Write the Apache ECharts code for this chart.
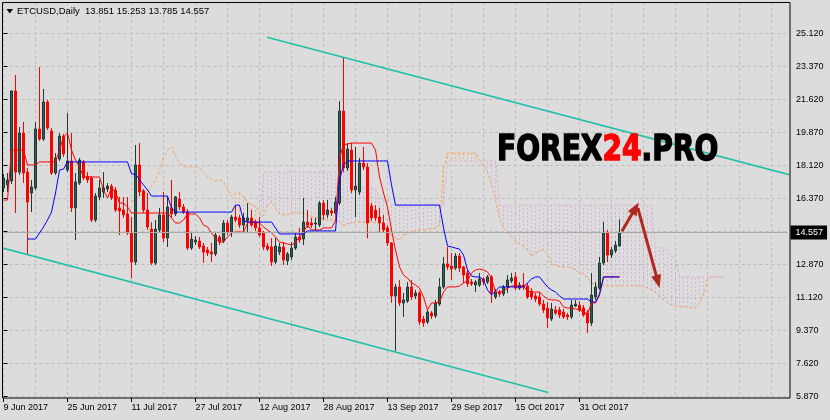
<!DOCTYPE html>
<html><head><meta charset="utf-8">
<script src="https://cdn.jsdelivr.net/npm/echarts@6/dist/echarts.min.js"></script>
<style>html,body{margin:0;padding:0;background:#dcdcdc}#c{width:830px;height:420px}</style>
</head><body><div id="c"></div>
<script>
// ---------- DATA ----------
const startDate = '2017-06-09';
const slotCount = 197; // daily slots shown on the time axis (incl. future cloud)
const tickLabels = ['9 Jun 2017','25 Jun 2017','11 Jul 2017','27 Jul 2017','12 Aug 2017','28 Aug 2017','13 Sep 2017','29 Sep 2017','15 Oct 2017','31 Oct 2017'];
const priceTicks = [5.87,7.62,9.37,11.12,12.87,14.62,16.37,18.12,19.87,21.62,23.37,25.12];
const priceLabels = [5.87,7.62,9.37,11.12,12.87,16.37,18.12,19.87,21.62,23.37,25.12];
const lastPrice = 14.557;
const header = {symbol:'ETCUSD,Daily', open:13.851, high:15.253, low:13.785, close:14.557};

// [open, high, low, close]
const ohlc = [
[16.92,17.66,16.70,17.45],[17.08,17.71,16.70,17.34],[17.29,22.10,17.13,22.06],[22.06,22.91,15.59,17.76],[17.76,20.15,17.61,19.83],
[19.83,20.42,17.18,17.71],[17.76,17.98,13.36,16.17],[16.65,17.34,15.64,16.97],[16.92,20.42,16.81,20.05],[20.05,23.33,19.41,19.51],
[19.51,22.17,19.41,21.48],[21.48,21.58,19.99,20.10],[19.94,20.10,17.61,17.71],[17.71,18.77,17.61,18.51],[18.45,19.83,18.35,19.67],
[19.67,19.78,18.56,18.72],[17.87,20.89,17.76,18.35],[18.35,19.83,15.64,15.86],[15.86,17.71,14.16,17.24],[17.18,18.51,17.08,18.40],
[18.30,18.40,17.34,17.45],[17.55,17.76,17.18,17.34],[17.45,17.55,15.11,15.22],[15.22,16.65,15.11,16.49],[16.44,17.34,16.28,16.92],
[16.70,17.76,16.39,16.92],[16.86,17.18,16.70,17.02],[17.02,17.13,16.28,16.39],[16.81,16.97,15.64,15.75],[15.86,16.44,14.42,15.70],
[15.75,16.44,15.33,15.49],[15.54,16.44,14.42,14.53],[14.53,15.38,12.14,12.99],[12.99,19.20,12.83,18.14],[18.14,19.30,16.49,16.70],
[16.76,16.86,15.59,15.75],[15.75,16.65,14.69,14.85],[14.74,15.11,12.83,12.94],[12.94,15.22,12.83,14.74],[14.69,15.86,14.53,15.49],
[15.49,16.70,14.05,14.26],[14.26,16.49,13.79,15.91],[15.86,17.34,15.33,15.54],[15.54,16.49,15.43,16.44],[16.33,16.70,15.75,15.91],
[15.91,16.07,15.54,15.64],[15.64,15.80,13.63,13.73],[13.73,14.53,13.63,14.21],[14.05,14.37,13.89,14.16],[14.10,14.32,13.68,13.79],
[13.84,14.00,12.94,13.52],[13.63,13.79,13.31,13.47],[13.52,14.00,12.99,13.42],[13.42,14.58,13.31,14.42],[14.32,14.42,13.89,14.05],
[14.10,15.22,14.00,15.06],[15.06,15.22,14.42,14.58],[14.58,15.49,14.32,15.38],[15.38,16.01,15.11,15.22],[15.33,15.49,14.80,14.95],
[14.95,15.59,14.58,15.33],[15.17,16.12,14.58,15.33],[15.33,15.75,14.85,14.95],[15.11,15.22,14.64,14.80],[14.80,15.38,14.32,14.42],
[14.53,14.64,13.63,13.79],[13.84,14.00,13.57,13.68],[13.79,14.26,12.78,12.99],[12.99,14.26,12.89,13.84],[13.52,14.00,13.36,13.79],
[13.79,14.05,12.83,13.10],[13.05,13.52,12.83,13.42],[13.26,14.05,13.10,13.73],[13.73,14.58,13.63,14.32],[14.32,14.80,14.00,14.16],
[14.21,16.39,13.89,15.11],[15.11,15.75,14.80,14.95],[15.06,15.33,14.80,14.95],[15.01,15.33,14.69,15.06],[14.95,16.23,14.85,16.12],
[16.12,16.28,15.22,15.49],[15.49,16.28,15.33,15.75],[15.70,15.86,15.43,15.59],[15.59,16.44,15.49,16.17],[16.12,21.53,16.01,21.00],
[21.00,23.85,17.76,17.98],[17.98,19.30,17.82,18.98],[18.93,19.30,16.65,16.81],[16.81,19.09,15.38,17.02],[16.70,18.51,16.55,18.24],
[18.24,19.09,17.87,18.03],[18.03,18.24,14.25,15.06],[15.96,16.12,15.17,15.33],[15.75,16.01,15.17,15.33],[15.38,15.86,14.53,15.06],
[15.06,15.49,14.53,14.69],[14.80,14.95,13.84,14.00],[14.00,14.05,10.82,11.19],[11.19,11.83,8.27,11.67],[11.67,12.04,10.66,10.82],
[10.82,11.35,10.08,10.98],[10.92,11.93,10.82,11.67],[11.67,12.04,10.98,11.14],[11.19,11.51,11.03,11.35],[11.35,11.45,9.65,9.81],
[9.97,10.13,9.55,9.76],[9.81,10.50,9.70,10.34],[10.29,10.39,9.97,10.13],[10.13,10.98,10.02,10.82],[10.76,12.14,10.66,11.67],
[11.67,13.26,11.56,12.89],[12.89,13.79,12.57,12.73],[12.78,13.47,12.04,12.62],[12.67,13.47,12.57,13.31],[13.31,13.47,12.46,12.67],
[12.73,12.78,11.88,12.30],[12.41,12.57,11.67,11.83],[11.93,12.09,11.72,11.83],[11.77,12.04,11.40,11.93],[11.77,12.41,11.67,12.09],
[12.09,12.20,11.77,11.93],[11.93,12.30,11.83,12.20],[12.20,12.30,10.82,11.35],[11.14,11.56,11.03,11.40],[11.40,11.51,11.14,11.30],
[11.30,11.77,11.19,11.67],[11.67,12.30,11.35,12.04],[11.99,12.41,11.88,12.14],[12.20,12.46,11.51,11.61],[11.61,11.93,11.51,11.77],
[11.77,12.41,11.51,11.67],[11.72,11.88,11.03,11.14],[11.45,11.61,10.98,11.14],[11.19,11.35,10.87,11.03],[11.14,11.40,10.66,10.76],
[10.76,10.98,10.29,10.45],[10.55,10.87,9.49,10.02],[9.97,10.82,9.86,10.50],[10.45,10.66,10.18,10.29],[10.45,10.61,10.02,10.18],
[10.34,10.50,9.97,10.08],[10.18,10.29,9.92,10.08],[10.08,10.98,9.97,10.71],[10.66,10.98,10.61,10.76],[10.71,10.92,10.34,10.45],
[10.55,10.71,10.08,10.18],[10.29,10.45,9.23,9.76],[9.76,12.41,9.60,11.24],[11.14,11.93,10.98,11.67],[11.61,13.26,11.51,12.94],
[12.94,15.11,12.83,14.53],[14.53,14.69,12.99,13.36],[13.36,13.79,13.20,13.63],[13.58,14.10,13.47,13.89],[13.851,15.253,13.785,14.557]
];

const tenkan = [
16.28,16.28,18.93,18.93,18.93,18.93,18.14,18.14,18.14,18.30,
18.30,18.30,18.30,18.30,18.93,19.62,19.83,18.93,18.40,18.03,
17.50,17.50,17.50,17.50,17.50,16.81,16.39,16.92,16.70,16.12,
16.12,15.91,15.59,15.59,15.59,15.59,15.59,15.59,15.59,15.59,
15.59,15.59,15.33,15.06,15.06,15.22,15.54,15.54,15.54,15.33,
14.95,14.85,14.53,14.26,14.05,14.05,14.32,14.53,14.58,14.58,
14.58,15.06,15.11,15.11,15.06,14.85,14.69,14.53,14.32,14.05,
14.00,13.95,13.89,14.05,14.32,14.58,14.95,14.69,14.69,14.69,
14.80,14.80,14.80,15.17,18.51,19.20,19.25,19.30,19.30,19.30,
19.30,19.30,19.30,18.93,17.50,16.65,15.91,14.69,13.63,12.73,
12.30,12.14,11.88,11.77,11.61,11.14,10.45,10.82,10.82,10.87,
11.40,11.67,11.67,11.67,11.72,11.88,11.99,12.41,12.57,12.62,
12.57,12.46,12.14,11.40,11.40,11.45,11.61,11.72,11.72,11.72,
11.72,11.45,11.40,11.40,11.40,11.19,11.03,10.98,10.98,10.92,
10.61,10.55,10.55,10.50,10.45,10.34,10.23,10.82,10.82,11.24,
12.20,12.20,12.20,12.20,12.20];

const kijun = [
null,null,null,null,null,null,14.21,14.21,14.21,14.53,
14.85,15.22,15.64,16.65,17.87,17.92,18.30,18.30,18.30,18.30,
18.30,18.30,18.30,18.30,18.30,18.30,18.30,18.30,18.30,18.30,
18.30,18.30,17.66,17.66,17.34,17.08,16.81,16.49,16.49,16.49,
16.49,16.49,15.86,15.64,15.64,15.64,15.64,15.64,15.64,15.64,
15.64,15.64,15.64,15.64,15.64,15.64,15.64,15.64,16.01,16.01,
15.17,15.11,15.11,15.11,15.11,15.11,15.11,15.11,14.80,14.48,
14.48,14.48,14.48,14.48,14.48,14.48,14.64,14.64,14.64,14.64,
14.64,14.64,14.64,14.64,17.34,18.14,18.35,18.35,18.35,18.35,
18.35,18.35,18.35,18.35,18.35,18.35,18.35,17.08,16.01,16.01,
16.01,16.01,16.01,16.01,16.01,16.01,16.01,16.01,16.01,16.01,
14.80,13.84,13.79,13.73,13.68,13.36,12.57,12.25,12.20,12.20,
12.04,11.51,11.24,11.45,11.67,11.67,11.67,11.67,11.67,11.67,
11.67,11.88,12.09,12.20,12.20,11.93,11.67,11.51,11.40,11.19,
11.03,11.03,11.03,11.03,11.03,11.03,11.03,10.87,10.87,11.29,
12.20,12.20,12.20,12.20,12.20];

const spanA = [
null,null,null,null,null,null,null,null,null,null,
null,null,null,null,null,null,null,null,null,null,
null,null,null,null,null,null,null,null,null,null,
null,null,16.17,16.33,16.49,16.65,16.70,17.02,17.34,17.87,
18.51,18.93,19.09,18.61,18.24,18.08,18.03,18.03,18.03,17.98,
17.76,17.50,17.39,17.29,17.34,17.24,16.92,16.44,16.65,16.65,
16.49,16.12,16.07,15.96,15.59,15.43,16.01,16.17,15.86,15.54,
15.49,15.49,15.59,15.59,15.59,15.59,15.49,15.38,15.33,15.33,
15.27,15.22,15.22,15.17,15.11,14.90,15.01,15.06,15.11,15.11,
15.11,15.11,15.11,15.06,15.06,14.90,14.58,14.37,14.26,14.16,
14.37,14.53,14.58,14.64,14.69,14.69,14.74,14.74,14.80,14.95,
17.98,18.77,18.77,18.77,18.77,18.77,18.77,18.77,18.77,18.40,
18.08,17.76,17.08,16.28,15.33,14.80,14.58,14.32,14.11,13.94,
13.84,13.63,13.31,13.47,13.57,13.63,13.36,12.94,12.78,12.73,
12.73,12.73,12.67,12.57,12.41,12.36,12.14,11.88,11.77,11.72,
11.72,11.72,11.72,11.72,11.72,11.72,11.72,11.72,11.72,11.72,
11.72,11.61,11.51,11.35,11.19,10.98,10.82,10.71,10.66,10.61,
10.61,10.61,10.55,10.55,10.82,11.24,12.04,12.20,12.20,12.20,
12.20];

const spanB = [
null,null,null,null,null,null,null,null,null,null,
null,null,null,null,null,null,null,null,null,null,
null,null,null,null,null,null,null,null,null,null,
null,null,null,null,null,null,null,null,null,null,
null,null,null,null,null,null,null,null,null,null,
null,null,null,null,null,null,null,null,14.53,14.53,
14.53,14.53,14.53,14.53,14.53,17.76,17.76,17.76,17.76,17.76,
17.76,17.76,17.76,17.76,17.76,17.76,17.76,17.76,17.76,17.76,
17.76,17.76,17.76,17.76,17.76,17.76,17.76,17.55,17.24,16.92,
16.92,16.92,16.92,16.92,16.33,16.33,16.33,16.01,16.01,16.01,
16.01,16.01,16.01,16.01,16.01,16.01,16.01,16.01,16.01,16.01,
16.01,18.35,18.35,18.35,18.35,18.35,18.35,18.35,18.35,18.35,
18.35,18.35,18.35,18.35,16.01,16.01,16.01,16.01,16.01,16.01,
16.01,16.01,16.01,16.01,16.01,16.01,16.01,16.01,16.01,16.01,
16.01,16.01,16.01,16.01,16.01,16.01,16.01,16.01,16.01,16.01,
16.01,16.01,16.01,16.01,16.01,16.01,16.01,16.01,16.01,16.01,
16.01,16.01,16.01,13.79,13.73,13.73,13.57,13.31,13.20,12.20,
12.20,12.20,12.20,12.20,12.20,12.20,12.20,12.20,12.20,12.20,
12.20];

// trend channel, [bar index, price]
const channelUpper = [[65.9, 24.91], [203.3, 17.24]];
const channelLower = [[-0.875, 13.77], [136.2, 6.07]];
// forecast arrows, [bar index, price]
const arrowUp = [[154.6, 14.62], [158.0, 15.85]];
const arrowDown = [[158.6, 15.85], [163.6, 11.95]];

// ---------- BUILD ----------
const MONTHS = ['Jan','Feb','Mar','Apr','May','Jun','Jul','Aug','Sep','Oct','Nov','Dec'];
const t0 = Date.UTC(2017, 5, 9);
const dates = [];
for (let k = 0; k < slotCount; k++) dates.push(new Date(t0 + k * 86400000).toISOString().slice(0, 10));
function fmtDate(s) { const d = new Date(s + 'T00:00:00Z'); return d.getUTCDate() + ' ' + MONTHS[d.getUTCMonth()] + ' ' + d.getUTCFullYear(); }
const labelIdx = new Set();
dates.forEach((s, i) => { if (tickLabels.indexOf(fmtDate(s)) >= 0) labelIdx.add(i); });

const candleData = ohlc.map(r => [r[0], r[3], r[2], r[1]]);
const hatch = [];
for (let i = 0; i < spanA.length; i++) if (spanA[i] != null && spanB[i] != null) hatch.push([i, spanA[i], spanB[i]]);

const FONT = 'Liberation Sans';
const chart = echarts.init(document.getElementById('c'));
chart.setOption({
  animation: false,
  backgroundColor: '#dcdcdc',
  grid: {left: 3.5, top: 2, width: 784, height: 396},
  xAxis: [{
    type: 'category', data: dates, boundaryGap: false,
    axisLine: {show: false}, offset: 0,
    axisTick: {show: true, interval: (i) => labelIdx.has(i), length: 4, lineStyle: {color: '#000'}},
    axisLabel: {interval: (i) => labelIdx.has(i), formatter: (v) => fmtDate(v), align: 'left', margin: 5,
      color: '#000', fontSize: 9, fontFamily: FONT},
    splitLine: {show: true, interval: (i) => i % 8 === 0, lineStyle: {color: '#bcbcbc', type: [3, 3], width: 1}}
  }, {
    type: 'value', min: 0, max: slotCount - 1, show: false
  }],
  yAxis: {
    type: 'value', position: 'right', offset: 2.5, min: 5.78, max: 26.78, scale: true,
    axisLine: {show: false},
    axisTick: {show: true, customValues: priceTicks, length: 4, lineStyle: {color: '#000'}},
    axisLabel: {customValues: priceLabels, formatter: (v) => v.toFixed(3), margin: 6, color: '#000', fontSize: 9, fontFamily: FONT},
    splitLine: {show: true, lineStyle: {color: '#bcbcbc', type: [3, 3], width: 1}}
  },
  series: [
    {type: 'custom', xAxisIndex: 1, data: hatch, encode: {x: 0, y: [1, 2]}, z: 1, silent: true,
     renderItem: (params, api) => {
       const i = api.value(0), a = api.value(1), b = api.value(2);
       const p1 = api.coord([i, a]), p2 = api.coord([i, b]);
       return {type: 'line', shape: {x1: p1[0], y1: p1[1], x2: p2[0], y2: p2[1]},
         style: {stroke: a > b ? '#f0b080' : '#d4b4d4', lineWidth: 1, lineDash: [2, 2]}};
     }},
    {type: 'line', data: spanA, showSymbol: false, z: 2, silent: true,
     lineStyle: {color: '#f4a460', width: 1, type: [3, 2]}},
    {type: 'line', data: spanB, showSymbol: false, z: 2, silent: true,
     lineStyle: {color: '#d8b4d8', width: 1, type: [3, 2]}},
    {type: 'candlestick', data: candleData, barWidth: 2, z: 3, silent: true,
     itemStyle: {color: '#2f5f50', color0: '#ff0000', borderColor: '#1f3a34', borderColor0: '#ff0000', borderWidth: 1},
     markLine: {silent: true, symbol: ['none', 'none'], animation: false,
       lineStyle: {color: '#a8a8a8', type: 'solid', width: 1},
       label: {show: true, position: 'end', formatter: lastPrice.toFixed(3), color: '#fff', backgroundColor: '#000',
         padding: [3, 4, 2, 5], distance: 3, fontSize: 9, fontFamily: FONT},
       data: [{yAxis: lastPrice}]}},
    {type: 'line', data: tenkan, showSymbol: false, z: 4, silent: true, lineStyle: {color: '#ff0000', width: 1}},
    {type: 'line', data: kijun, showSymbol: false, z: 5, silent: true, lineStyle: {color: '#0000ff', width: 1}},
    {type: 'line', xAxisIndex: 1, data: channelUpper, showSymbol: false, clip: false, z: 6, silent: true,
     lineStyle: {color: '#20c0a8', width: 1.5},
     markLine: {silent: true, symbol: ['none', 'triangle'], symbolSize: [10, 13], animation: false,
       lineStyle: {color: '#b0281e', width: 3, type: 'solid'}, label: {show: false},
       data: [[{coord: arrowUp[0]}, {coord: arrowUp[1]}], [{coord: arrowDown[0]}, {coord: arrowDown[1]}]]}},
    {type: 'line', xAxisIndex: 1, data: channelLower, showSymbol: false, clip: false, z: 6, silent: true,
     lineStyle: {color: '#20c0a8', width: 1.5}}
  ],
  graphic: [
    {type: 'rect', z: 100, silent: true, shape: {x: 2.5, y: 2.5, width: 787.5, height: 395.5},
     style: {fill: null, stroke: '#000', lineWidth: 1}},
    {type: 'polygon', z: 100, shape: {points: [[6.5, 9], [13, 9], [9.75, 13.5]]}, style: {fill: '#000'}},
    {type: 'text', z: 100, x: 17, y: 11, style: {
      text: header.symbol + '  ' + [header.open, header.high, header.low, header.close].map(v => v.toFixed(3)).join(' '),
      fill: '#000', font: '9.5px "' + FONT + '"', verticalAlign: 'middle', align: 'left'}},
    {type: 'text', z: 90, x: 497, y: 151, scaleX: 0.78, scaleY: 1, style: {
      text: '{a|FOREX}{b|24}{a|.PRO}', verticalAlign: 'middle', align: 'left',
      rich: {a: {fill: '#000', stroke: '#000', lineWidth: 1.5, font: '900 36px "DejaVu Sans"'},
             b: {fill: '#ff0000', stroke: '#ff0000', lineWidth: 1.5, font: '900 36px "DejaVu Sans"'}}}}
  ]
});
</script></body></html>
